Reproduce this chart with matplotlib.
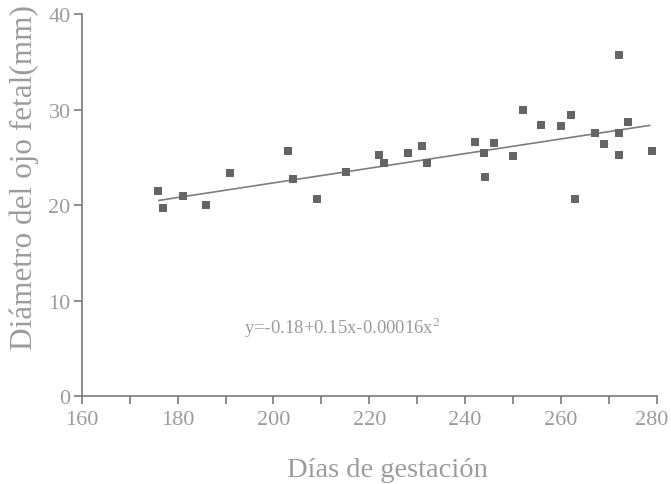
import numpy as np
import matplotlib
matplotlib.use("Agg")
import matplotlib.pyplot as plt
import matplotlib.transforms as mtransforms

# días de gestación / diámetro del ojo fetal (mm)
dias = [175.9, 176.9, 181.1, 185.9, 190.9, 203.0, 204.0, 209.0, 215.1, 222.0,
        223.1, 228.0, 231.0, 232.0, 242.0, 243.9, 244.1, 246.0, 250.0, 252.1,
        255.9, 260.0, 262.0, 263.0, 267.0, 268.9, 272.0, 272.0, 272.0, 273.9,
        278.9]
diametro = [21.5, 19.7, 21.0, 20.0, 23.4, 25.7, 22.7, 20.6, 23.5, 25.3,
            24.4, 25.5, 26.2, 24.4, 26.6, 25.5, 22.9, 26.5, 25.1, 30.0,
            28.4, 28.3, 29.4, 20.6, 27.6, 26.4, 35.7, 27.6, 25.2, 28.7,
            25.7]

# recta de ajuste tal como aparece dibujada
ajuste_x = [176.1, 278.5]
ajuste_y = [20.5, 28.35]

ecuacion = "y=-0.18+0.15x-0.00016x$^2$"

plt.rcParams['font.family'] = ['Liberation Serif', 'DejaVu Serif']
plt.rcParams['mathtext.fontset'] = 'custom'
plt.rcParams['mathtext.rm'] = 'Liberation Serif'

texto = '#9c9c9c'
eje = '#7a7a7a'

fig = plt.figure(figsize=(6.71, 4.85), dpi=100)
ax = fig.add_axes([0.1218, 0.1808, 0.979 - 0.1218, 0.969 - 0.1808])

ax.plot(ajuste_x, ajuste_y, color='#7d7d7d', lw=1.2, zorder=2)
ax.plot(dias, diametro, 's', color='#646469', markersize=5.8,
        markeredgewidth=0, zorder=3)

ax.text(193.9, 7.25, ecuacion, color=texto, fontsize=13.5, va='center')

ax.set_xlim(160, 280)
ax.set_ylim(0, 40)
ax.set_xticks(np.arange(160, 281, 20))
ax.set_xticks(np.arange(160, 281, 10), minor=True)
ax.set_yticks([0, 10, 20, 30, 40])

for s in ['top', 'right']:
    ax.spines[s].set_visible(False)
for s in ['left', 'bottom']:
    ax.spines[s].set_color(eje)
    ax.spines[s].set_linewidth(1.2)

ax.tick_params(which='both', direction='out', color=eje, width=1.2,
               length=6, labelcolor=texto, labelsize=16)
ax.tick_params(axis='x', pad=4)
ax.tick_params(axis='y', pad=2)

# la última etiqueta (280) se corre un poco a la izquierda para que quepa
ultima = ax.get_xticklabels()[-1]
ultima.set_transform(ultima.get_transform() +
                     mtransforms.ScaledTranslation(-5 / 100, 0, fig.dpi_scale_trans))

ax.set_xlabel("Días de gestación", color=texto, fontsize=20.5)
ax.set_ylabel("Diámetro del ojo fetal(mm)", color=texto, fontsize=22.5)
ax.xaxis.set_label_coords(0.531, -0.158)
ax.yaxis.set_label_coords(-0.0745, 0.574)

fig.savefig("out.png", dpi=100)
